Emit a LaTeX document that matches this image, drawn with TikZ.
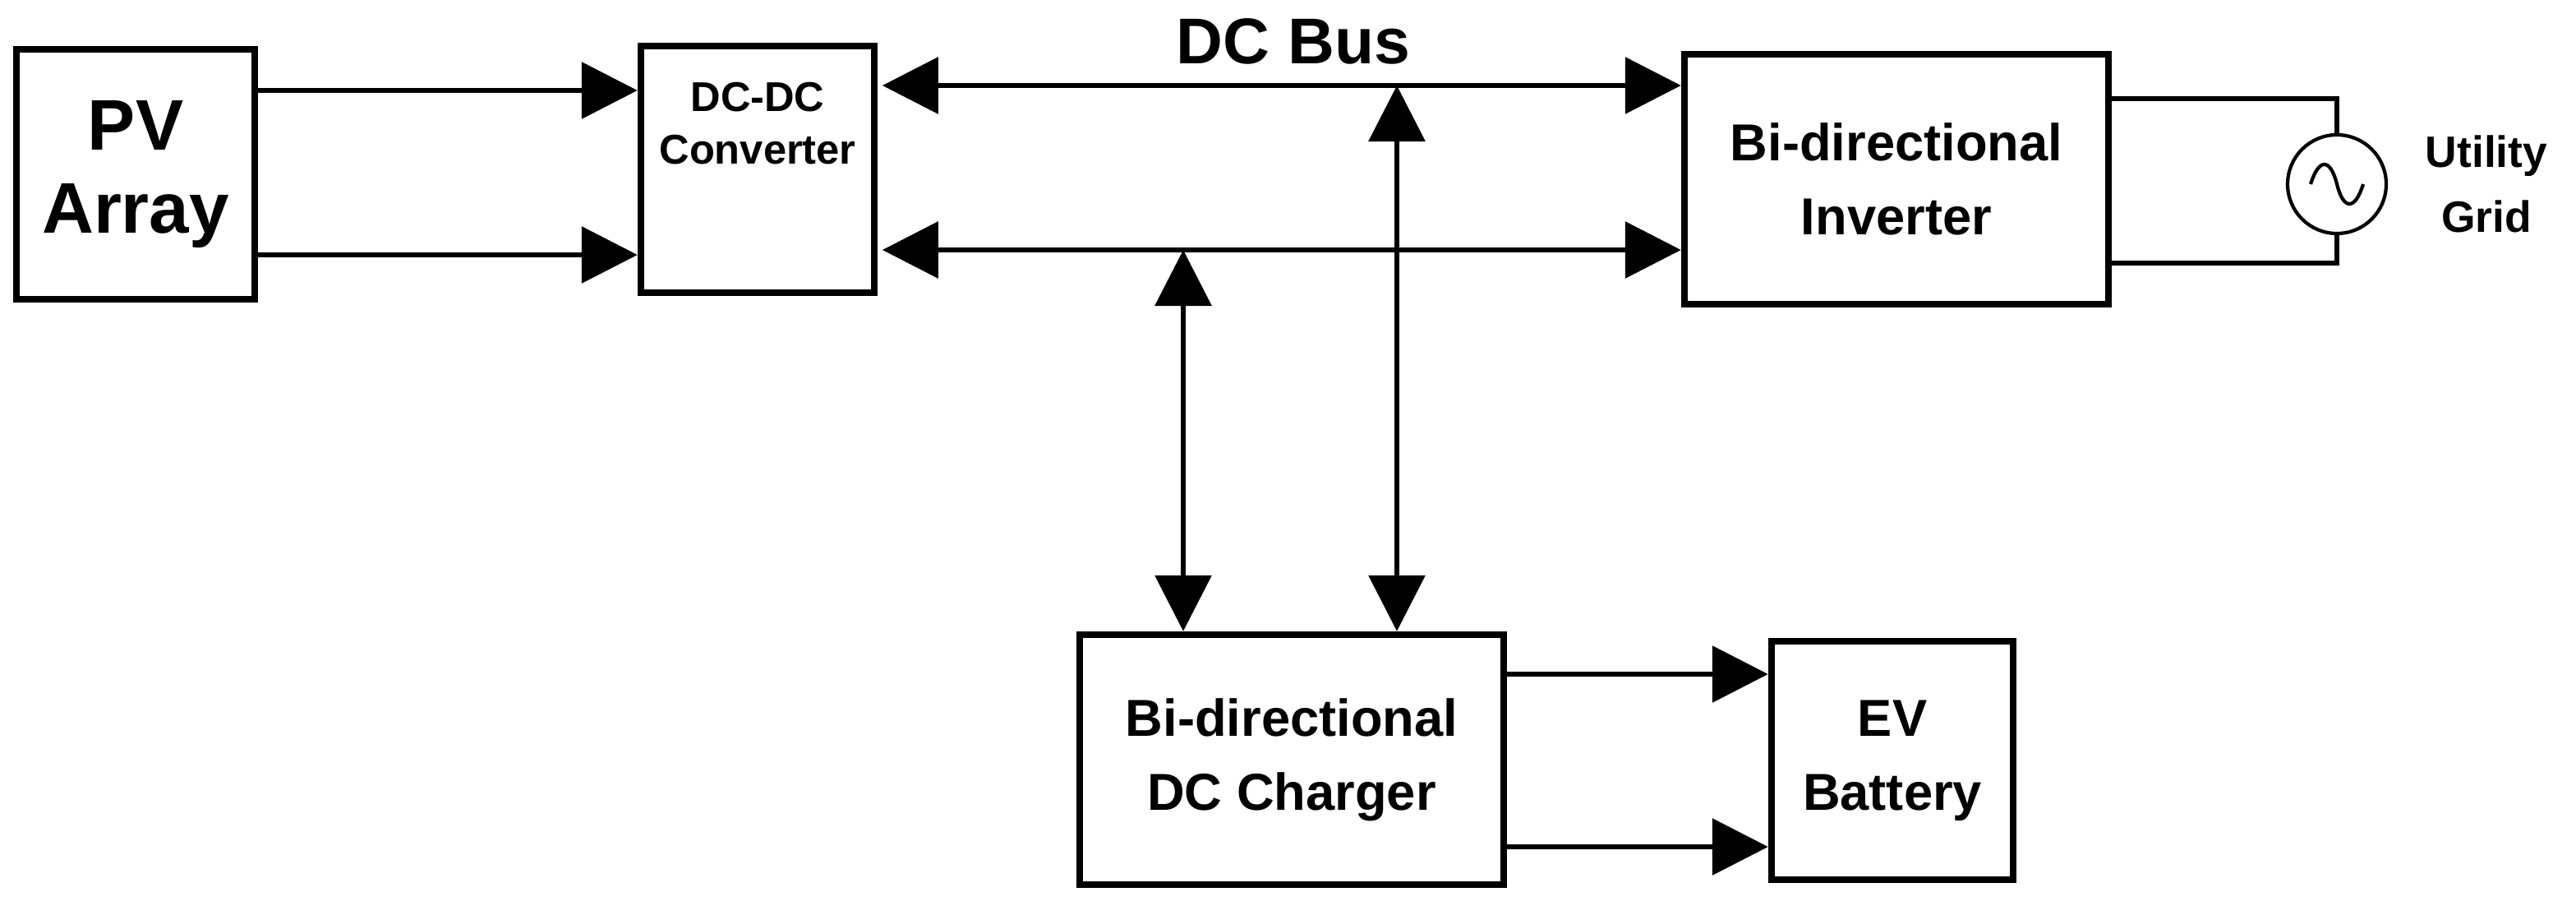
\documentclass[tikz,border=0pt]{standalone}
\usepackage{fontspec}
\setmainfont{Liberation Sans}
\usetikzlibrary{arrows.meta}
\begin{document}
\begin{tikzpicture}[x=0.05cm,y=-0.05cm,
  box/.style={draw,line width=6pt,inner sep=0pt,align=center,font=\bfseries},
  ar/.style={line width=4.5pt,-{Triangle[length=1.7cm,width=1.7cm]}},
  dar/.style={line width=4.5pt,{Triangle[length=1.7cm,width=1.7cm]}-{Triangle[length=1.7cm,width=1.7cm]}}]
\useasboundingbox (0,0) rectangle (1567.5,550.5);
\node[box,minimum width=145*0.05cm,minimum height=152*0.05cm,font=\bfseries\fontsize{62}{72}\selectfont] (pv) at (82.5,106) {PV\\Array};
\node[box,minimum width=142*0.05cm,minimum height=150*0.05cm,font=\bfseries\fontsize{36}{46}\selectfont] (dc) at (461,103) {DC-DC\\Converter\\[1.2cm]};
\node[box,minimum width=258*0.05cm,minimum height=152*0.05cm,font=\bfseries\fontsize{45}{64}\selectfont] (inv) at (1154,109) {Bi-directional\\Inverter};
\node[box,minimum width=258*0.05cm,minimum height=152*0.05cm,font=\bfseries\fontsize{45}{64}\selectfont] (chg) at (786,462) {Bi-directional\\DC Charger};
\node[box,minimum width=147*0.05cm,minimum height=145*0.05cm,font=\bfseries\fontsize{45}{64}\selectfont] (ev) at (1151.5,462.5) {EV\\Battery};
\node[font=\bfseries\fontsize{56}{60}\selectfont] (bus) at (787,25) {DC Bus};
\node[draw,circle,line width=3pt,minimum size=60*0.05cm,inner sep=0pt] (ac) at (1422,112) {};
\draw[line width=3pt] (1406,112) .. controls (1411,96) and (1418,96) .. (1422,112) .. controls (1426,128) and (1433,128) .. (1438,112);
\node[align=center,font=\bfseries\fontsize{38}{56}\selectfont] (ug) at (1513,112) {Utility\\Grid};
\coordinate (g1) at (1422,60); \coordinate (g2) at (1422,160);
\draw[line width=4pt] (inv.east |- g1) -- (g1) -- (ac.north);
\draw[line width=4pt] (inv.east |- g2) -- (g2) -- (ac.south);
\draw[ar] (pv.east |- 0,55) -- (dc.west |- 0,55);
\draw[ar] (pv.east |- 0,155) -- (dc.west |- 0,155);
\draw[dar] ([xshift=4pt]dc.east |- 0,52) -- (inv.west |- 0,52);
\draw[dar] ([xshift=4pt]dc.east |- 0,152) -- (inv.west |- 0,152);
\draw[dar] (720,152) -- (chg.north -| 720,0);
\draw[dar] (850,52) -- (chg.north -| 850,0);
\draw[ar] (chg.east |- 0,410) -- (ev.west |- 0,410);
\draw[ar] (chg.east |- 0,515) -- (ev.west |- 0,515);
\end{tikzpicture}
\end{document}
